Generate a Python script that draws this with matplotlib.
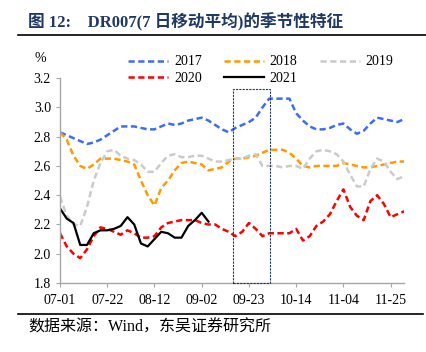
import matplotlib
matplotlib.use("Agg")
import matplotlib.pyplot as plt
from matplotlib.patches import Rectangle

plt.rcParams['font.family'] = ['Liberation Serif', 'Noto Sans CJK SC']

# days since 07-01, every 3 days
days = list(range(0, 154, 3))

y2017 = [2.83, 2.81, 2.79, 2.77, 2.75, 2.76, 2.78, 2.81, 2.84, 2.87, 2.87, 2.87, 2.86,
         2.85, 2.85, 2.87, 2.89, 2.88, 2.89, 2.91, 2.92, 2.93, 2.91, 2.88, 2.85, 2.83,
         2.86, 2.88, 2.90, 2.93, 3.00, 3.06, 3.06, 3.06, 3.06, 2.96, 2.91, 2.87, 2.85,
         2.85, 2.86, 2.88, 2.89, 2.85, 2.82, 2.84, 2.89, 2.93, 2.92, 2.91, 2.90, 2.92]
y2018 = [2.83, 2.78, 2.67, 2.60, 2.58, 2.61, 2.65, 2.65, 2.65, 2.64, 2.63, 2.61, 2.50,
         2.40, 2.33, 2.45, 2.50, 2.57, 2.62, 2.63, 2.62, 2.61, 2.57, 2.58, 2.59, 2.63,
         2.65, 2.65, 2.66, 2.67, 2.69, 2.71, 2.71, 2.71, 2.69, 2.65, 2.60, 2.59, 2.60,
         2.60, 2.60, 2.60, 2.62, 2.61, 2.60, 2.59, 2.59, 2.60, 2.61, 2.62, 2.63, 2.63]
y2019 = [2.39, 2.26, 2.20, 2.19, 2.32, 2.50, 2.62, 2.70, 2.71, 2.67, 2.65, 2.64, 2.61,
         2.56, 2.56, 2.62, 2.67, 2.68, 2.66, 2.66, 2.67, 2.67, 2.65, 2.63, 2.63, 2.64,
         2.65, 2.65, 2.67, 2.68, 2.60, 2.60, 2.60, 2.59, 2.60, 2.60, 2.58, 2.65, 2.70,
         2.71, 2.70, 2.68, 2.63, 2.54, 2.46, 2.46, 2.58, 2.65, 2.63, 2.56, 2.51, 2.53]
y2020 = [2.14, 2.05, 2.00, 1.97, 2.03, 2.12, 2.18, 2.17, 2.15, 2.13, 2.16, 2.14, 2.11,
         2.11, 2.12, 2.18, 2.21, 2.22, 2.23, 2.23, 2.23, 2.21, 2.20, 2.20, 2.17, 2.15,
         2.12, 2.15, 2.21, 2.17, 2.12, 2.14, 2.14, 2.14, 2.14, 2.17, 2.09, 2.12, 2.19,
         2.22, 2.27, 2.36, 2.44, 2.32, 2.26, 2.23, 2.36, 2.40, 2.34, 2.25, 2.27, 2.29]
y2021 = [2.31, 2.24, 2.21, 2.06, 2.06, 2.14, 2.16, 2.16, 2.17, 2.19, 2.25, 2.20, 2.07,
         2.05, 2.10, 2.15, 2.14, 2.11, 2.11, 2.19, 2.23, 2.28, 2.22]

tick_days = [0, 21, 42, 63, 84, 105, 126, 147]
tick_labels = ["07-01", "07-22", "08-12", "09-02", "09-23", "10-14", "11-04", "11-25"]

fig = plt.figure(figsize=(4.27, 3.52), dpi=100)
ax = fig.add_axes([0.1405, 0.196, 0.806, 0.582])

dash = (0, (2.5, 1.4))
l17, = ax.plot(days, y2017, color="#3D6CF5", lw=1.8, ls=dash, label="2017")
l18, = ax.plot(days, y2018, color="#FF9A00", lw=1.8, ls=dash, label="2018")
l19, = ax.plot(days, y2019, color="#CBCBCB", lw=1.8, ls=dash, label="2019")
l20, = ax.plot(days, y2020, color="#FF0000", lw=1.8, ls=dash, label="2020")
l21, = ax.plot(days[:len(y2021)], y2021, color="black", lw=1.6, label="2021")

ax.add_patch(Rectangle((77, 1.8), 16.5, 1.325, fill=False, ec="#1F3864",
                       lw=0.8, ls=(0, (2, 1)), clip_on=False, zorder=5))

ax.set_xlim(0, 153)
ax.set_ylim(1.8, 3.2)
ax.set_yticks([1.8, 2.0, 2.2, 2.4, 2.6, 2.8, 3.0, 3.2])
ax.set_yticklabels(["1.8", "2.0", "2.2", "2.4", "2.6", "2.8", "3.0", "3.2"])
ax.set_xticks(tick_days)
ax.set_xticklabels(tick_labels)
ax.tick_params(labelsize=10, color="#A6A6A6", length=3, width=0.8)
ax.tick_params(axis="x", pad=5)
for s in ["top", "right"]:
    ax.spines[s].set_visible(False)
for s in ["left", "bottom"]:
    ax.spines[s].set_color("#A6A6A6")
    ax.spines[s].set_linewidth(1.0)

fig.text(0.094, 0.835, "%", fontsize=10, ha="center", va="center")

fig.legend([l17, l20, l18, l21, l19], ["2017", "2020", "2018", "2021", "2019"],
           ncol=3, frameon=False, fontsize=10, loc="upper left",
           bbox_to_anchor=(0.271, 0.878), handlelength=2.9, handletextpad=0.4,
           columnspacing=1.6, labelspacing=0.25)

fig.text(0.066, 0.937, "图 12:    DR007(7 日移动平均)的季节性特征", fontsize=12,
         fontweight="bold", color="#1F3864", va="center")
fig.add_artist(plt.Line2D([0.042, 1.0], [0.9, 0.9], color="black", lw=1.2))
fig.add_artist(plt.Line2D([0.042, 0.99], [0.108, 0.108], color="black", lw=1.2))
fig.text(0.066, 0.07, "数据来源：Wind，东吴证券研究所", fontsize=11.5, va="center")

fig.savefig("out.png", dpi=100)
